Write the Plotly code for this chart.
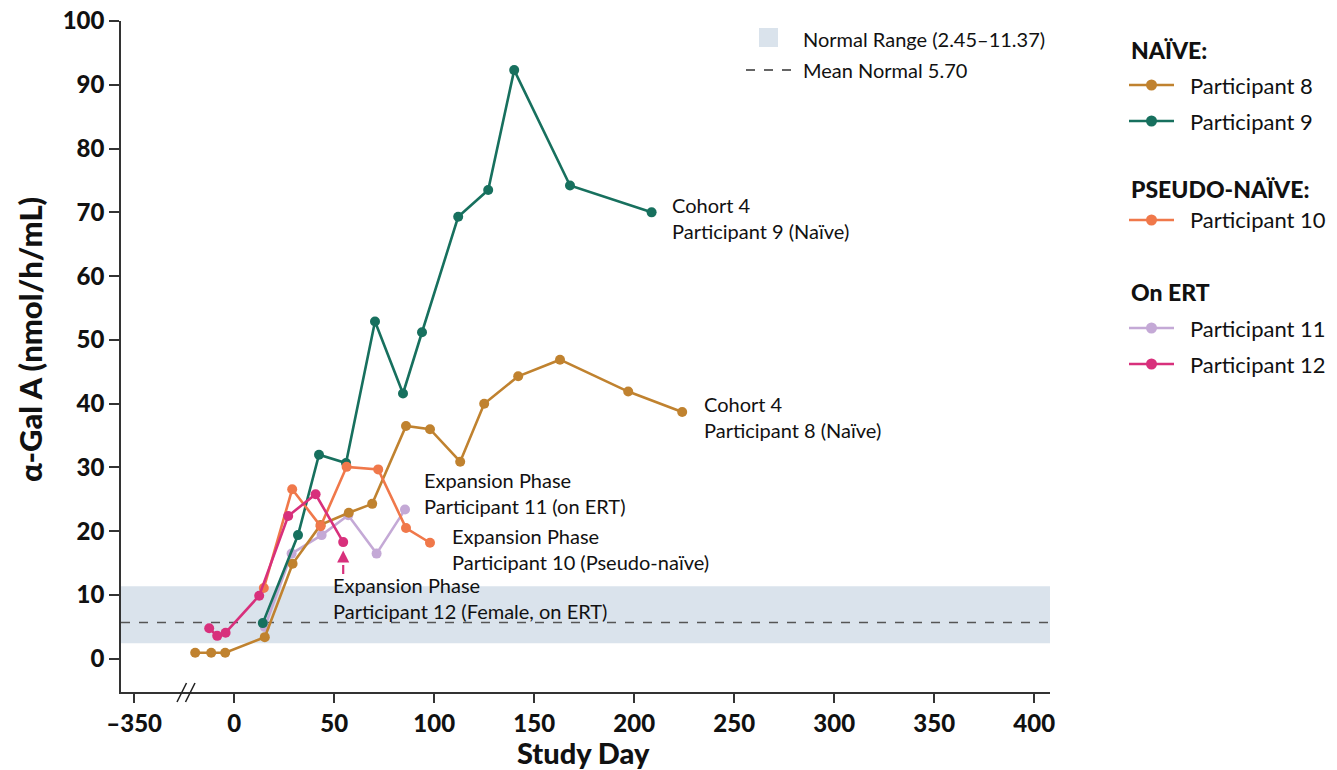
import plotly.graph_objects as go

# ---------------- data ----------------
p8_day = [-19.5, -11.5, -4.5, 15.3, 29.2, 43.2, 57.3, 69.0, 85.9, 97.9, 113.0, 125.0, 142.0, 162.9, 197.0, 224.0]
p8_val = [0.95, 0.95, 0.95, 3.4, 14.9, 21.0, 22.9, 24.3, 36.5, 36.0, 30.9, 40.0, 44.3, 46.9, 41.9, 38.7]

p9_day = [14.3, 31.9, 42.4, 55.9, 70.4, 84.4, 93.9, 112.0, 127.0, 140.0, 167.9, 208.7]
p9_val = [5.6, 19.4, 32.0, 30.7, 52.9, 41.6, 51.2, 69.3, 73.5, 92.3, 74.2, 70.0]

p10_day = [14.8, 29.0, 43.2, 56.2, 72.0, 85.9, 97.9]
p10_val = [11.1, 26.6, 20.8, 30.1, 29.7, 20.5, 18.2]

p11_day = [15.3, 28.7, 43.7, 57.0, 71.2, 85.4]
p11_val = [5.0, 16.5, 19.4, 22.5, 16.5, 23.4]

p12_day = [-12.5, -8.5, -4.3, 12.5, 27.0, 40.7, 54.5]
p12_val = [4.8, 3.6, 4.1, 9.9, 22.4, 25.8, 18.3]

normal_low, normal_high, normal_mean = 2.45, 11.37, 5.70

x_tickvals = [-50, 0, 50, 100, 150, 200, 250, 300, 350, 400]
x_ticktext = ["\u2013350", "0", "50", "100", "150", "200", "250", "300", "350", "400"]
y_tickvals = [0, 10, 20, 30, 40, 50, 60, 70, 80, 90, 100]

series_names = ["Participant 8", "Participant 9", "Participant 10", "Participant 11", "Participant 12"]
colors = ["#C0822F", "#17705E", "#F0784A", "#C4A9D6", "#D8307C"]

# ---------------- layout geometry ----------------
W, H = 1337, 770
L, R, T, B = 121, 1050, 21, 692  # plot area in screen pixels

def px(x):
    return (x - L) / (R - L)

def py(y):
    return (B - y) / (B - T)

FONT = "Lato"
fig = go.Figure()

# normal range band + mean line
fig.add_shape(type="rect", xref="paper", yref="y", x0=0, x1=1, y0=normal_low, y1=normal_high,
              fillcolor="#DAE3EC", line_width=0, layer="below")
fig.add_shape(type="line", xref="paper", yref="y", x0=0, x1=1, y0=normal_mean, y1=normal_mean,
              line=dict(color="#555555", width=1.3, dash="dash"), layer="below")

data = [(p8_day, p8_val), (p9_day, p9_val), (p10_day, p10_val), (p11_day, p11_val), (p12_day, p12_val)]
order = [3, 0, 1, 2, 4]
for i in order:
    d, v = data[i]
    fig.add_trace(go.Scatter(x=d, y=v, mode="lines+markers", name=series_names[i],
                             line=dict(color=colors[i], width=2.6),
                             marker=dict(color=colors[i], size=10),
                             showlegend=False, cliponaxis=False))

annos = []
shapes = []

def txt(x, y, s, size=18, weight=400, anchor="left"):
    annos.append(dict(xref="paper", yref="paper", x=px(x), y=py(y), text=s, showarrow=False,
                      xanchor=anchor, yanchor="middle", align="left",
                      font=dict(family=FONT, size=size, color="#111111", weight=weight)))

# in-plot labels
txt(670, 218, "Cohort 4<br>Participant 9 (Na\u00efve)", size=20)
txt(702, 417, "Cohort 4<br>Participant 8 (Na\u00efve)", size=20)
txt(422, 493, "Expansion Phase<br>Participant 11 (on ERT)", size=20)
txt(450, 549, "Expansion Phase<br>Participant 10 (Pseudo-na\u00efve)", size=20)
txt(331, 598, "Expansion Phase<br>Participant 12 (Female, on ERT)", size=20)

# dashed arrow pointing to participant 12 last point
shapes.append(dict(type="line", xref="x", yref="y", x0=p12_day[-1], x1=p12_day[-1], y0=13.3, y1=16.0,
                   line=dict(color=colors[4], width=2.2, dash="dash")))
annos.append(dict(xref="x", yref="y", x=p12_day[-1], y=17.0, ax=0, ay=8, text="", showarrow=True,
                  arrowhead=2, arrowsize=1.1, arrowwidth=2.2, arrowcolor=colors[4]))

# axis break marks
for x0 in (177, 185.5):
    shapes.append(dict(type="line", xref="paper", yref="paper", x0=px(x0), x1=px(x0 + 9.5),
                       y0=py(702), y1=py(683), line=dict(color="#222222", width=1.6)))

# top legend: normal range / mean normal
shapes.append(dict(type="rect", xref="paper", yref="paper", x0=px(759), x1=px(778), y0=py(47), y1=py(28),
                   fillcolor="#DAE3EC", line_width=0))
txt(801, 39, "Normal Range (2.45\u201311.37)", size=20)
shapes.append(dict(type="line", xref="paper", yref="paper", x0=px(746), x1=px(792), y0=py(70), y1=py(70),
                   line=dict(color="#333333", width=1.3, dash="dash")))
txt(801, 70, "Mean Normal 5.70", size=20)

# right legend
txt(1129, 50, "NA\u00cfVE:", size=23, weight=900)
txt(1129, 189, "PSEUDO-NA\u00cfVE:", size=23, weight=900)
txt(1129, 292, "On ERT", size=23, weight=900)
legend_rows = [(0, 85), (1, 121), (2, 220), (3, 328), (4, 364)]
for i, yy in legend_rows:
    shapes.append(dict(type="line", xref="paper", yref="paper", x0=px(1129), x1=px(1174), y0=py(yy), y1=py(yy),
                       line=dict(color=colors[i], width=2.6)))
    shapes.append(dict(type="circle", xref="paper", yref="paper", xsizemode="pixel", ysizemode="pixel",
                       xanchor=px(1151.5), yanchor=py(yy), x0=-5.5, x1=5.5, y0=-5.5, y1=5.5,
                       fillcolor=colors[i], line_width=0))
    txt(1188, yy, series_names[i], size=22)

# axis titles
annos.append(dict(xref="paper", yref="paper", x=px(30), y=py(340), text="\u03b1-Gal A (nmol/h/mL)",
                  showarrow=False, textangle=-90, xanchor="center", yanchor="middle",
                  font=dict(family=FONT, size=31, color="#111111", weight=900)))
annos.append(dict(xref="paper", yref="paper", x=px(583), y=py(752), text="Study Day",
                  showarrow=False, xanchor="center", yanchor="middle",
                  font=dict(family=FONT, size=29, color="#111111", weight=900)))

for s in shapes:
    fig.add_shape(**s)

fig.update_layout(
    width=W, height=H,
    margin=dict(l=L, r=W - R, t=T, b=H - B, pad=0, autoexpand=False),
    paper_bgcolor="white", plot_bgcolor="white",
    showlegend=False,
    annotations=annos,
    xaxis=dict(range=[-56.6, 407.9], tickvals=x_tickvals, ticktext=x_ticktext, automargin=False,
               showgrid=False, zeroline=False, showline=True, linecolor="#333333", linewidth=1.6,
               ticks="outside", ticklen=9, tickwidth=1.6, tickcolor="#333333",
               ticklabeloverflow="allow",
               tickfont=dict(family=FONT, size=24, color="#111111", weight=900)),
    yaxis=dict(range=[-5.2, 100], tickvals=y_tickvals, automargin=False,
               showgrid=False, zeroline=False, showline=True, linecolor="#333333", linewidth=1.6,
               ticks="outside", ticklen=10, tickwidth=1.6, tickcolor="#333333",
               ticklabeloverflow="allow",
               tickfont=dict(family=FONT, size=24, color="#111111", weight=900)),
)

# remove the default page margin so the figure fills the window exactly
fig.write_html("out.html", config={"displayModeBar": False},
               post_script="document.body.style.margin='0';document.body.style.overflow='hidden';")
